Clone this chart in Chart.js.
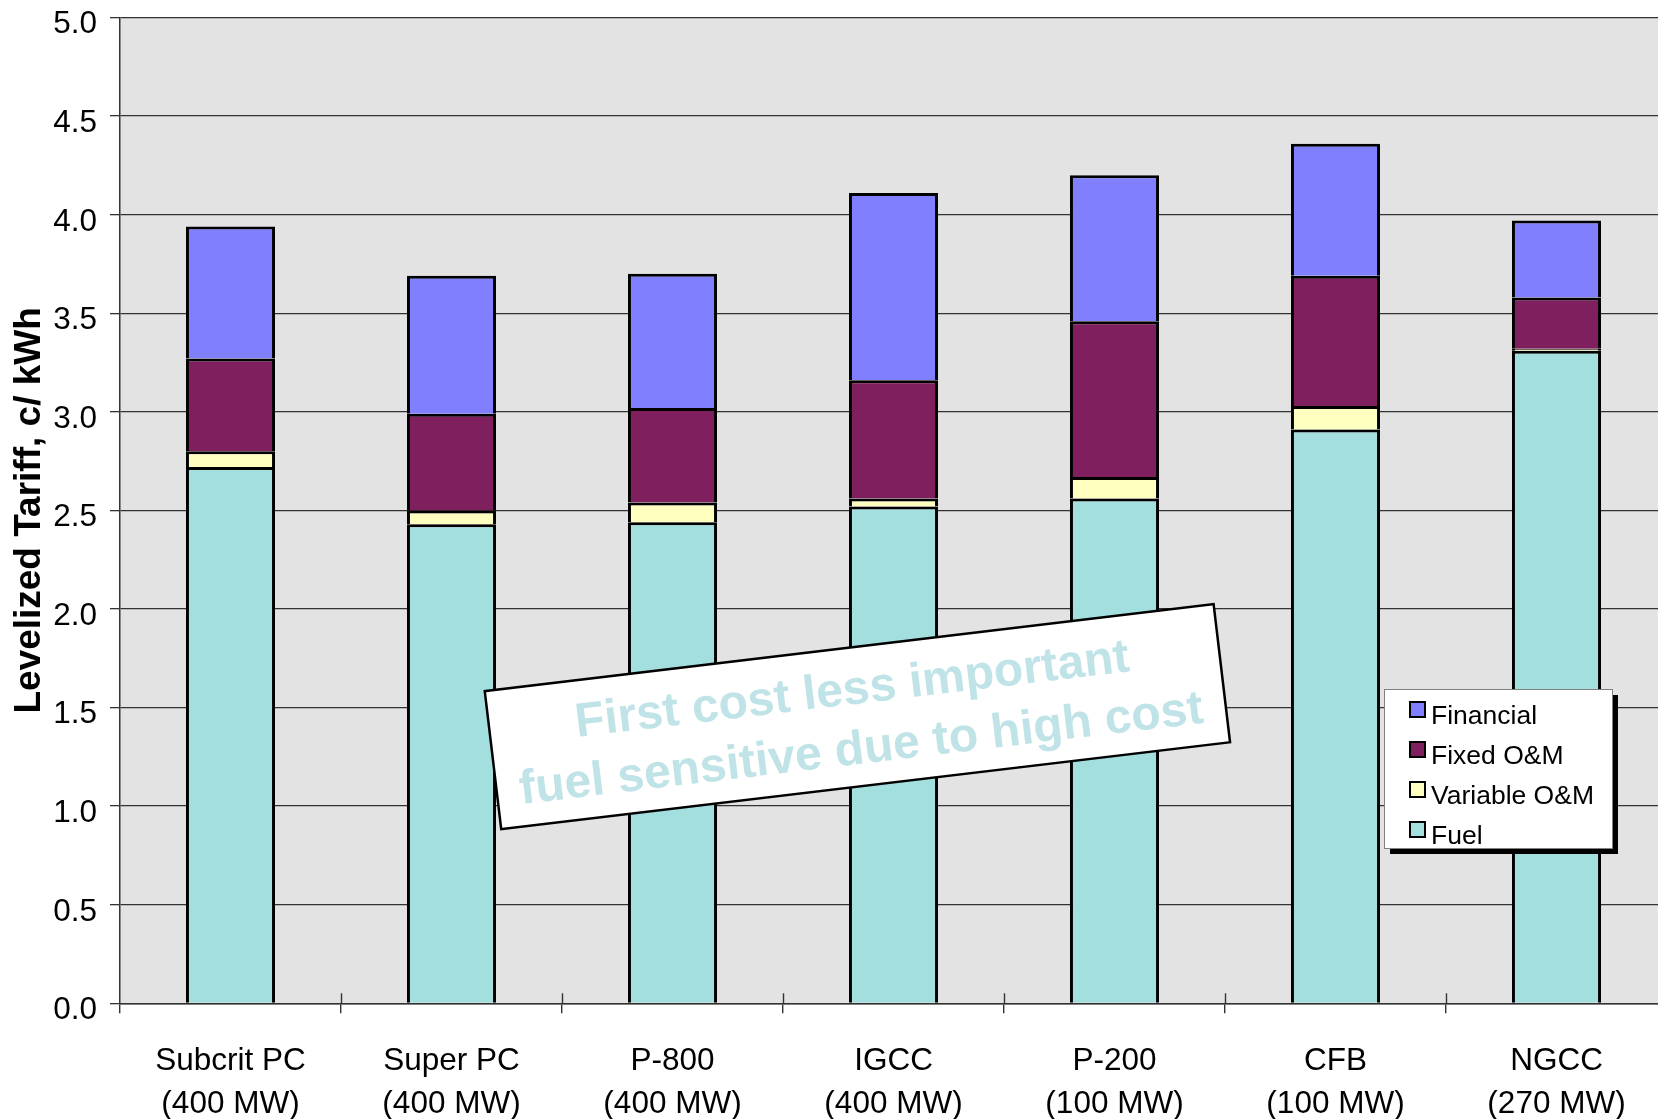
<!DOCTYPE html>
<html>
<head>
<meta charset="utf-8">
<script src="https://cdn.jsdelivr.net/npm/chart.js@4/dist/chart.umd.min.js"></script>
<style>
  html, body { margin: 0; padding: 0; background: #ffffff; overflow: hidden; }
  #wrap { width: 1658px; height: 1119px; overflow: hidden; }
  canvas { display: block; }
</style>
</head>
<body>
<div id="wrap"><canvas id="c" width="1670" height="1119"></canvas></div>
<script>
// Plant types and their unit sizes (two-line category labels)
const plants = ['Subcrit PC', 'Super PC', 'P-800', 'IGCC', 'P-200', 'CFB', 'NGCC'];
const capacities = ['(400 MW)', '(400 MW)', '(400 MW)', '(400 MW)', '(100 MW)', '(100 MW)', '(270 MW)'];

// Levelized tariff components, c/kWh (stacked bottom to top)
const fuel        = [2.72, 2.43, 2.44, 2.52, 2.56, 2.91, 3.31];
const variableOM  = [0.08, 0.07, 0.10, 0.04, 0.11, 0.12, 0.01];
const fixedOM     = [0.47, 0.49, 0.48, 0.60, 0.79, 0.66, 0.26];
const financial   = [0.67, 0.70, 0.68, 0.95, 0.74, 0.67, 0.39];

// Value axis ticks
const yTicks = [0.0, 0.5, 1.0, 1.5, 2.0, 2.5, 3.0, 3.5, 4.0, 4.5, 5.0];

const axisTitle = 'Levelized Tariff, c/ kWh';
const noteLines = ['First cost less important', 'fuel sensitive due to high cost'];

const FONT = '"Liberation Sans", Arial, Helvetica, sans-serif';

// Grey plot background
const plotBackground = {
  id: 'plotBackground',
  beforeDraw(chart) {
    const { ctx, chartArea: a } = chart;
    ctx.save();
    ctx.fillStyle = '#e3e3e3';
    ctx.fillRect(a.left, a.top, a.right - a.left, a.bottom - a.top);
    ctx.restore();
  }
};

// Category separators also poke a little above the baseline
const innerTicks = {
  id: 'innerTicks',
  afterDatasetsDraw(chart) {
    const { ctx, chartArea: a } = chart;
    const x = chart.scales.x;
    ctx.save();
    ctx.strokeStyle = '#333';
    ctx.lineWidth = 1.4;
    for (let i = 1; i < plants.length; i++) {
      const px = Math.round((x.getPixelForTick(i - 1) + x.getPixelForTick(i)) / 2) + 0.5;
      ctx.beginPath();
      ctx.moveTo(px, a.bottom - 10);
      ctx.lineTo(px, a.bottom);
      ctx.stroke();
    }
    ctx.restore();
  }
};

// Legend box with drop shadow, series listed top of stack first
const boxLegend = {
  id: 'boxLegend',
  afterDraw(chart) {
    const { ctx } = chart;
    const bx = 1384, by = 689, bw = 228, bh = 159;
    ctx.save();
    ctx.fillStyle = '#000';
    ctx.fillRect(bx + 6, by + 6, bw, bh);
    ctx.fillStyle = '#fff';
    ctx.fillRect(bx, by, bw, bh);
    ctx.strokeStyle = '#808080';
    ctx.lineWidth = 1;
    ctx.strokeRect(bx + 0.5, by + 0.5, bw, bh);
    const items = chart.data.datasets.slice().reverse();
    ctx.font = '26.5px ' + FONT;
    ctx.textBaseline = 'alphabetic';
    ctx.textAlign = 'left';
    items.forEach((ds, i) => {
      const sy = by + 12 + i * 40;
      ctx.fillStyle = ds.backgroundColor;
      ctx.fillRect(1409, sy, 17, 17);
      ctx.strokeStyle = '#000';
      ctx.lineWidth = 2;
      ctx.strokeRect(1410, sy + 1, 15, 15);
      ctx.fillStyle = '#000';
      ctx.fillText(ds.label, 1431, by + 35 + i * 40);
    });
    ctx.restore();
  }
};

// Tilted call-out box
const tiltedNote = {
  id: 'tiltedNote',
  afterDraw(chart) {
    const { ctx } = chart;
    const cx = 857.4, cy = 716.7, w = 734, h = 139;
    ctx.save();
    ctx.translate(cx, cy);
    ctx.rotate(-6.8 * Math.PI / 180);
    ctx.fillStyle = '#ffffff';
    ctx.fillRect(-w / 2, -h / 2, w, h);
    ctx.strokeStyle = '#000';
    ctx.lineWidth = 2.5;
    ctx.strokeRect(-w / 2, -h / 2, w, h);
    ctx.fillStyle = '#bfe3e6';
    ctx.font = 'bold 48px ' + FONT;
    ctx.textAlign = 'center';
    ctx.textBaseline = 'alphabetic';
    ctx.fillText(noteLines[0], -2, -13);
    ctx.fillText(noteLines[1], 0, 47);
    ctx.restore();
  }
};

const series = [
  { label: 'Fuel',         data: fuel,       color: '#a4dfe0' },
  { label: 'Variable O&M', data: variableOM, color: '#ffffc0' },
  { label: 'Fixed O&M',    data: fixedOM,    color: '#801f5e' },
  { label: 'Financial',    data: financial,  color: '#8080ff' }
];

new Chart(document.getElementById('c'), {
  type: 'bar',
  data: {
    labels: plants.map((p, i) => [p, capacities[i]]),
    datasets: series.map(s => ({
      label: s.label,
      data: s.data,
      backgroundColor: s.color,
      borderColor: '#000',
      borderWidth: 3,
      borderSkipped: 'start',
      barPercentage: 0.403,
      categoryPercentage: 1.0
    }))
  },
  options: {
    responsive: false,
    animation: false,
    devicePixelRatio: 1,
    layout: { padding: { top: 17.5, right: 3, left: 0, bottom: 0 } },
    plugins: {
      legend: { display: false },
      tooltip: { enabled: false }
    },
    scales: {
      x: {
        stacked: true,
        offset: true,
        grid: {
          offset: true,
          drawOnChartArea: false,
          drawTicks: true,
          tickLength: 10,
          color: '#333',
          lineWidth: 1.4
        },
        border: { display: true, color: '#333', width: 1.5 },
        ticks: {
          color: '#000',
          padding: 27.3,
          maxRotation: 0,
          autoSkip: false,
          font: { family: FONT, size: 31.5, lineHeight: 1.34 }
        },
        afterFit(scale) {
          scale.height = 115.7;
          scale.paddingLeft = 0;
          scale.paddingRight = 0;
        }
      },
      y: {
        stacked: true,
        min: 0,
        max: 5,
        afterBuildTicks(scale) { scale.ticks = yTicks.map(v => ({ value: v })); },
        grid: {
          drawOnChartArea: true,
          drawTicks: true,
          tickLength: 10,
          color: '#333',
          lineWidth: 1.3
        },
        border: { display: true, color: '#333', width: 1.5 },
        ticks: {
          color: '#000',
          padding: 13,
          // empty first line nudges each value label slightly below its grid line
          callback: v => ['', Number(v).toFixed(1)],
          font: { family: FONT, size: 31.5, lineHeight: 0.46 }
        },
        title: {
          display: true,
          text: axisTitle,
          color: '#000',
          padding: { top: 8, bottom: 0 },
          font: { family: FONT, size: 37, weight: 'bold', lineHeight: 1.2 }
        },
        afterFit(scale) {
          scale.width = 120;
          scale.paddingTop = 0;
          scale.paddingBottom = 0;
        }
      }
    }
  },
  plugins: [plotBackground, innerTicks, boxLegend, tiltedNote]
});
</script>
</body>
</html>
